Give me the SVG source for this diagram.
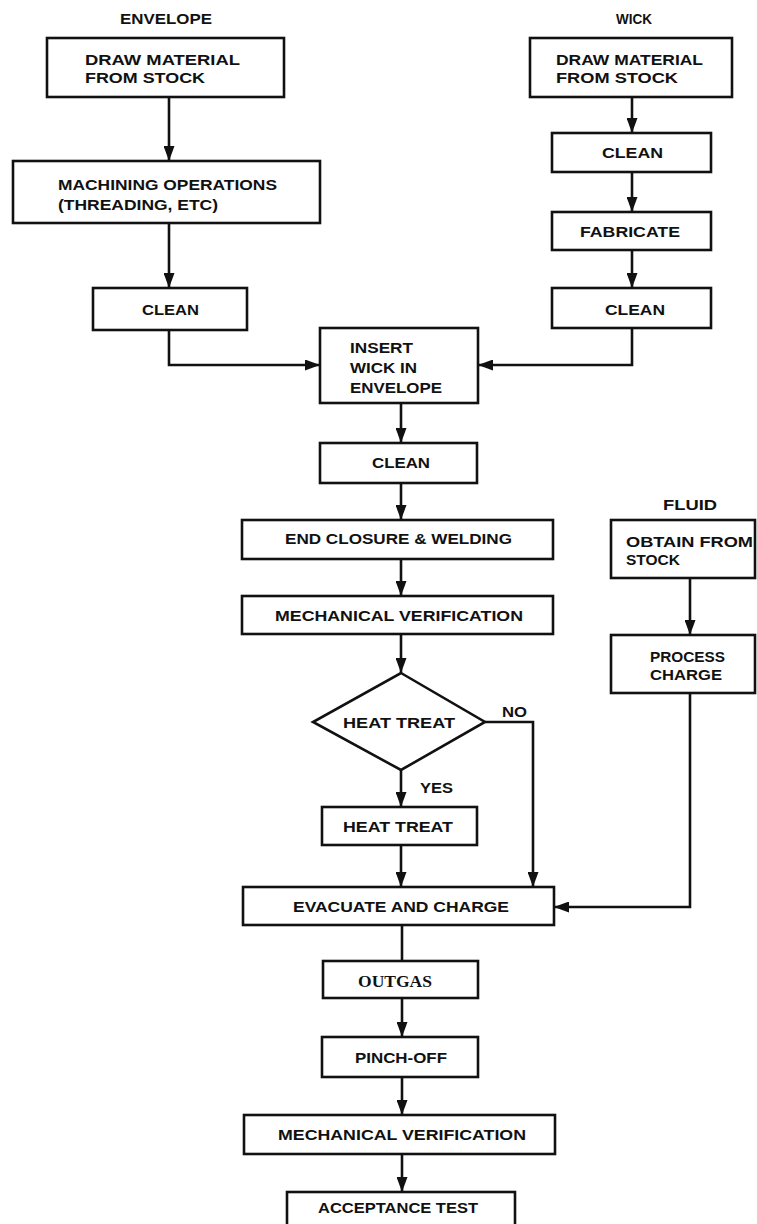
<svg xmlns="http://www.w3.org/2000/svg" width="757" height="1224" viewBox="0 0 757 1224">
<style>
.box{fill:#fff;stroke:#111;stroke-width:2.6}
.t{font-family:"Liberation Sans",Arial,sans-serif;font-weight:bold;font-size:15px;fill:#111}
.h{font-family:"Liberation Sans",Arial,sans-serif;font-weight:bold;font-size:14.5px;fill:#111}
.s{font-family:"Liberation Serif","Times New Roman",serif;font-weight:bold;font-size:17px;fill:#111}
.c{fill:none;stroke:#111;stroke-width:2.6}
</style>
<defs>
<marker id="ah" markerUnits="userSpaceOnUse" markerWidth="15" markerHeight="11" refX="15" refY="5.5" orient="auto">
<path d="M0,0 L15,5.5 L0,11 z" fill="#111"/>
</marker>
</defs>
<rect width="757" height="1224" fill="#fff"/>

<g id="labels">
<text class="h" x="120" y="24" textLength="92" lengthAdjust="spacingAndGlyphs">ENVELOPE</text>
<text class="h" x="616" y="24" textLength="36" lengthAdjust="spacingAndGlyphs">WICK</text>
<text class="h" x="663" y="510" textLength="54" lengthAdjust="spacingAndGlyphs">FLUID</text>
<text class="h" x="502" y="717" textLength="25" lengthAdjust="spacingAndGlyphs">NO</text>
<text class="h" x="420" y="793" textLength="33" lengthAdjust="spacingAndGlyphs">YES</text>
</g>

<g id="connectors">
<path class="c" d="M169,97 V161" marker-end="url(#ah)"/>
<path class="c" d="M169,223 V288" marker-end="url(#ah)"/>
<path class="c" d="M169,330 V365 H320" marker-end="url(#ah)"/>
<path class="c" d="M632,97 V133" marker-end="url(#ah)"/>
<path class="c" d="M632,172 V212" marker-end="url(#ah)"/>
<path class="c" d="M632,250 V288" marker-end="url(#ah)"/>
<path class="c" d="M632,328 V365 H478" marker-end="url(#ah)"/>
<path class="c" d="M401,403 V443" marker-end="url(#ah)"/>
<path class="c" d="M401,483 V520" marker-end="url(#ah)"/>
<path class="c" d="M401,559 V596" marker-end="url(#ah)"/>
<path class="c" d="M401,634 V673" marker-end="url(#ah)"/>
<path class="c" d="M401,770 V807" marker-end="url(#ah)"/>
<path class="c" d="M485,722 H533 V887" marker-end="url(#ah)"/>
<path class="c" d="M401,845 V887" marker-end="url(#ah)"/>
<path class="c" d="M690,578 V635" marker-end="url(#ah)"/>
<path class="c" d="M690,693 V907 H554" marker-end="url(#ah)"/>
<path class="c" d="M402,925 V961"/>
<path class="c" d="M402,998 V1037" marker-end="url(#ah)"/>
<path class="c" d="M402,1077 V1115" marker-end="url(#ah)"/>
<path class="c" d="M402,1154 V1192" marker-end="url(#ah)"/>
</g>

<g id="env-draw">
<rect class="box" x="47" y="38" width="237" height="59"/>
<text class="t" x="85" y="65" textLength="155" lengthAdjust="spacingAndGlyphs">DRAW MATERIAL</text>
<text class="t" x="85" y="83" textLength="120" lengthAdjust="spacingAndGlyphs">FROM STOCK</text>
</g>
<g id="env-machining">
<rect class="box" x="13" y="161" width="307" height="62"/>
<text class="t" x="58" y="190" textLength="219" lengthAdjust="spacingAndGlyphs">MACHINING OPERATIONS</text>
<text class="t" x="58" y="210" textLength="160" lengthAdjust="spacingAndGlyphs">(THREADING, ETC)</text>
</g>
<g id="env-clean">
<rect class="box" x="93" y="288" width="154" height="42"/>
<text class="t" x="142" y="315" textLength="57" lengthAdjust="spacingAndGlyphs">CLEAN</text>
</g>

<g id="wick-draw">
<rect class="box" x="530" y="38" width="202" height="59"/>
<text class="t" x="556" y="65" textLength="147" lengthAdjust="spacingAndGlyphs">DRAW MATERIAL</text>
<text class="t" x="556" y="83" textLength="122" lengthAdjust="spacingAndGlyphs">FROM STOCK</text>
</g>
<g id="wick-clean1">
<rect class="box" x="552" y="133" width="159" height="39"/>
<text class="t" x="602" y="158" textLength="61" lengthAdjust="spacingAndGlyphs">CLEAN</text>
</g>
<g id="wick-fabricate">
<rect class="box" x="552" y="212" width="159" height="38"/>
<text class="t" x="580" y="237" textLength="100" lengthAdjust="spacingAndGlyphs">FABRICATE</text>
</g>
<g id="wick-clean2">
<rect class="box" x="552" y="288" width="159" height="40"/>
<text class="t" x="605" y="315" textLength="60" lengthAdjust="spacingAndGlyphs">CLEAN</text>
</g>

<g id="insert">
<rect class="box" x="320" y="328" width="158" height="75"/>
<text class="t" x="350" y="353" textLength="63" lengthAdjust="spacingAndGlyphs">INSERT</text>
<text class="t" x="350" y="373" textLength="67" lengthAdjust="spacingAndGlyphs">WICK IN</text>
<text class="t" x="350" y="393" textLength="92" lengthAdjust="spacingAndGlyphs">ENVELOPE</text>
</g>
<g id="clean-main">
<rect class="box" x="320" y="443" width="157" height="40"/>
<text class="t" x="372" y="468" textLength="58" lengthAdjust="spacingAndGlyphs">CLEAN</text>
</g>
<g id="end-closure">
<rect class="box" x="242" y="520" width="311" height="39"/>
<text class="t" x="285" y="544" textLength="227" lengthAdjust="spacingAndGlyphs">END CLOSURE &amp; WELDING</text>
</g>
<g id="mech-verif1">
<rect class="box" x="242" y="596" width="311" height="38"/>
<text class="t" x="275" y="621" textLength="248" lengthAdjust="spacingAndGlyphs">MECHANICAL VERIFICATION</text>
</g>

<g id="fluid-obtain">
<rect class="box" x="611" y="520" width="144" height="58"/>
<text class="t" x="626" y="547" textLength="127" lengthAdjust="spacingAndGlyphs">OBTAIN FROM</text>
<text class="t" x="626" y="565" textLength="54" lengthAdjust="spacingAndGlyphs">STOCK</text>
</g>
<g id="fluid-process">
<rect class="box" x="611" y="635" width="144" height="58"/>
<text class="t" x="650" y="662" textLength="75" lengthAdjust="spacingAndGlyphs">PROCESS</text>
<text class="t" x="650" y="680" textLength="72" lengthAdjust="spacingAndGlyphs">CHARGE</text>
</g>

<g id="decision">
<polygon class="box" points="401,673 485,722 401,770 313,722"/>
<text class="t" x="343" y="728" textLength="112" lengthAdjust="spacingAndGlyphs">HEAT TREAT</text>
</g>
<g id="heat-treat">
<rect class="box" x="322" y="807" width="155" height="38"/>
<text class="t" x="343" y="832" textLength="110" lengthAdjust="spacingAndGlyphs">HEAT TREAT</text>
</g>
<g id="evacuate">
<rect class="box" x="243" y="887" width="311" height="38"/>
<text class="t" x="293" y="912" textLength="216" lengthAdjust="spacingAndGlyphs">EVACUATE AND CHARGE</text>
</g>
<g id="outgas">
<rect class="box" x="323" y="961" width="155" height="37"/>
<text class="s" x="358" y="987" textLength="74" lengthAdjust="spacingAndGlyphs">OUTGAS</text>
</g>
<g id="pinch-off">
<rect class="box" x="322" y="1037" width="156" height="40"/>
<text class="t" x="355" y="1063" textLength="92" lengthAdjust="spacingAndGlyphs">PINCH-OFF</text>
</g>
<g id="mech-verif2">
<rect class="box" x="244" y="1115" width="311" height="39"/>
<text class="t" x="278" y="1140" textLength="248" lengthAdjust="spacingAndGlyphs">MECHANICAL VERIFICATION</text>
</g>
<g id="acceptance">
<rect class="box" x="287" y="1192" width="228" height="44"/>
<text class="t" x="318" y="1213" textLength="160" lengthAdjust="spacingAndGlyphs">ACCEPTANCE TEST</text>
</g>
</svg>
